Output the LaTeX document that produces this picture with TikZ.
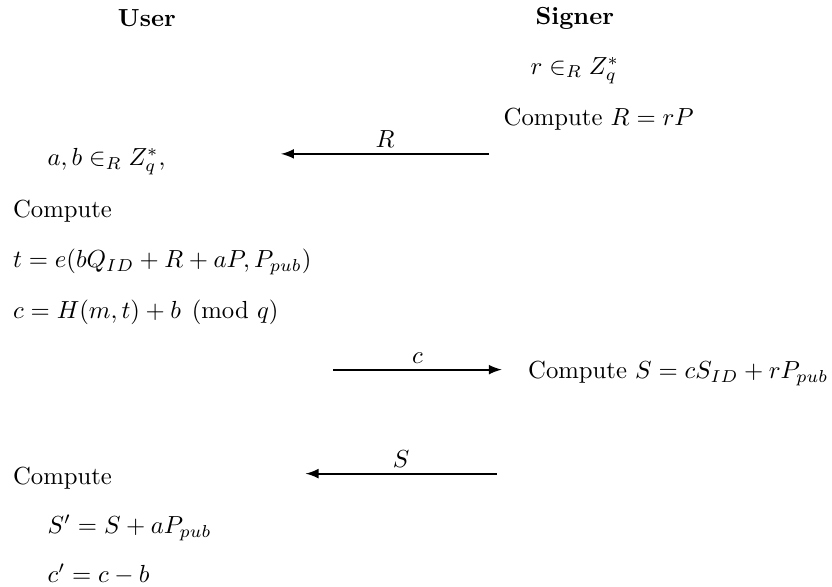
\documentclass[tikz,border=0pt]{standalone}
\usepackage{amsmath}
\usetikzlibrary{arrows,positioning}
\tikzset{
  party/.style = {
    font=\bfseries,
    inner sep=0pt
  },
  step_left/.style = {
    anchor=west,
    inner sep=0pt
  },
  step_mid/.style = {
    inner sep=0pt
  },
  msg/.style = {
    thick,
    ->,
    >=latex
  },
  msglabel/.style = {
    above=1pt,
    inner sep=1pt
  }
}
\begin{document}
\begin{tikzpicture}
\useasboundingbox (0,0) rectangle (11.84,-8.34);

% Parteien
\node[party] (user) at (2.09,-0.26) {User};
\node[party] (signer) at (8.18,-0.26) {Signer};

% Signer: Commitment
\node[step_mid] (pick_r) at (8.18,-1.0) {$r \in_R Z_q^*$};
\node[step_mid] (comp_R) at (8.52,-1.69) {Compute $R = rP$};

% User: Blinding
\node[step_left] (pick_ab) at (0.67,-2.30) {$a, b \in_R Z_q^*$,};
\node[step_left] (comp_1) at (0.18,-3.0) {Compute};
\node[step_left] (comp_t) at (0.18,-3.73) {$t = e(bQ_{ID} + R + aP, P_{pub})$};
\node[step_left] (comp_c) at (0.18,-4.44) {$c = H(m,t) + b \pmod q$};

% Signer: Signatur
\node[step_left] (comp_S) at (7.51,-5.31) {Compute $S = cS_{ID} + rP_{pub}$};

% User: Unblinding
\node[step_left] (comp_2) at (0.18,-6.80) {Compute};
\node[step_left] (comp_S2) at (0.67,-7.51) {$S' = S + aP_{pub}$};
\node[step_left] (comp_c2) at (0.67,-8.17) {$c' = c - b$};

% Nachrichten
\coordinate (R_from) at (6.96,-2.19);
\coordinate (R_to) at (4.0,-2.19);
\coordinate (c_from) at (4.74,-5.26);
\coordinate (c_to) at (7.14,-5.26);
\coordinate (S_from) at (7.07,-6.74);
\coordinate (S_to) at (4.35,-6.74);

\draw[msg] (R_from) -- node[msglabel] {$R$} (R_to);
\draw[msg] (c_from) -- node[msglabel] {$c$} (c_to);
\draw[msg] (S_from) -- node[msglabel] {$S$} (S_to);

\end{tikzpicture}
\end{document}
